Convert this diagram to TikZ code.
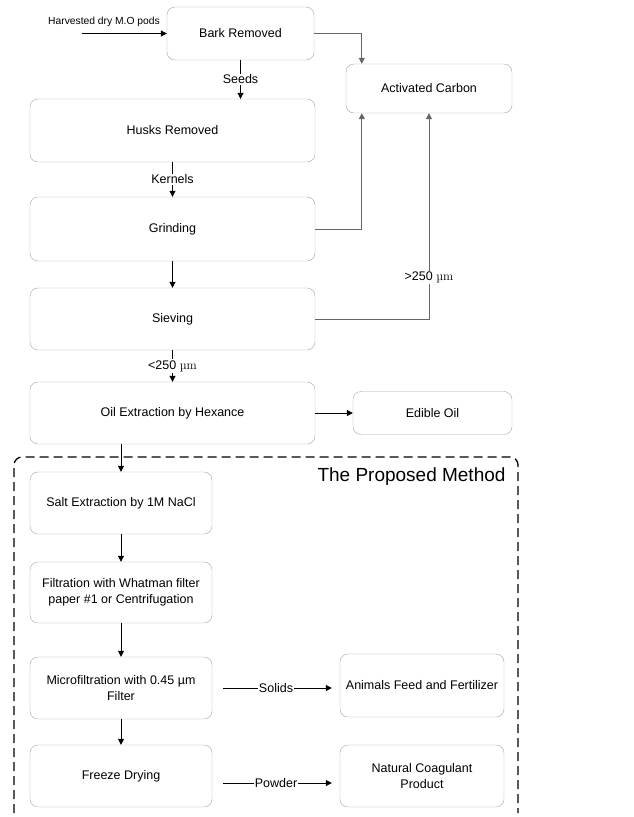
\documentclass[tikz,border=0pt]{standalone}
\usepackage{fontspec}
\setsansfont{Liberation Sans}
\usetikzlibrary{arrows.meta,calc}
\begin{document}
\begin{tikzpicture}[x=1pt,y=-1pt,
        every node/.style={font=\sffamily\fontsize{12.5}{16}\selectfont},
        stage/.style={draw=gray!70, rounded corners=8pt, align=center, inner sep=2pt},
        flow/.style={draw=black, line width=1pt, -{Triangle[length=6pt,width=6pt]}},
        feedline/.style={draw=black!60, line width=1pt, -{Triangle[length=6pt,width=6pt]}},
        tag/.style={fill=white, inner sep=1pt}]
    \useasboundingbox (0,0) rectangle (634,817);
    % main line
    \node[stage, minimum width=147pt, minimum height=53pt] (bark) at (240.5,33.5) {Bark Removed};
    \node[stage, minimum width=285pt, minimum height=63pt] (husks) at (172.5,130.5) {Husks Removed};
    \node[stage, minimum width=285pt, minimum height=64pt] (grind) at (172.5,229) {Grinding};
    \node[stage, minimum width=285pt, minimum height=62pt] (sieve) at (172.5,319) {Sieving};
    \node[stage, minimum width=285pt, minimum height=62pt] (oil) at (172.5,413) {Oil Extraction by Hexance};
    \node[stage, minimum width=166pt, minimum height=49pt] (carbon) at (429,88.5) {Activated Carbon};
    \node[stage, minimum width=159pt, minimum height=43pt] (edible) at (432.5,413) {Edible Oil};
    % proposed method
    \node[stage, minimum width=182pt, minimum height=62pt] (salt) at (121,503) {Salt Extraction by 1M NaCl};
    \node[stage, minimum width=182pt, minimum height=61pt] (filt) at (121,592.5) {Filtration with Whatman filter\\paper \#1 or Centrifugation};
    \node[stage, minimum width=182pt, minimum height=62pt] (micro) at (121,688) {Microfiltration with 0.45 µm\\Filter};
    \node[stage, minimum width=182pt, minimum height=62pt] (freeze) at (121,776) {Freeze Drying};
    \node[stage, minimum width=164pt, minimum height=63pt] (feed) at (422,685.5) {Animals Feed and Fertilizer};
    \node[stage, minimum width=164pt, minimum height=62pt] (coag) at (422,776) {Natural Coagulant\\Product};
    \node[font=\sffamily\fontsize{19}{22}\selectfont] (title) at (411.5,477) {The Proposed Method};
    \draw[line width=1.3pt, dash pattern=on 9pt off 5pt, rounded corners=8pt]
        (14,813) -- (14,457) -- (518,457) -- (518,813);
    % input
    \coordinate (pods) at (82,33.5);
    \node[font=\sffamily\fontsize{10.3}{12}\selectfont] (podtext) at (104,22) {Harvested dry M.O pods};
    \path[flow] (pods) -- (bark.west);
    \path[flow] (bark.south) -- node[tag] {Seeds} (bark.south |- husks.north);
    \path[flow] (husks.south) -- node[tag] {Kernels} (grind.north);
    \path[flow] (grind.south) -- (sieve.north);
    \path[flow] (sieve.south) -- node[tag] {<250 {\rmfamily µm}} (oil.north);
    \path[flow] (oil.east) -- (edible.west);
    \path[flow] (salt.north |- oil.south) -- (salt.north);
    \path[flow] (salt.south) -- (filt.north);
    \path[flow] (filt.south) -- (micro.north);
    \path[flow] (micro.south) -- (freeze.north);
    \path[flow, shorten <=11pt, shorten >=8pt] (micro.east) -- node[tag] {Solids} (micro.east -| feed.west);
    \path[flow, shorten <=11pt, shorten >=8pt] ([yshift=-7pt]freeze.east) -- node[tag] {Powder} ([yshift=-7pt]freeze.east -| coag.west);
    % to activated carbon
    \coordinate (cin) at ($(carbon.north west)+(16,0)$);
    \path[feedline] (bark.east) -| (cin);
    \path[feedline] (grind.east) -| (cin |- carbon.south);
    \path[feedline] (sieve.east) -| node[tag, pos=0.6] {>250 {\rmfamily µm}} (carbon.south);
\end{tikzpicture}
\end{document}
